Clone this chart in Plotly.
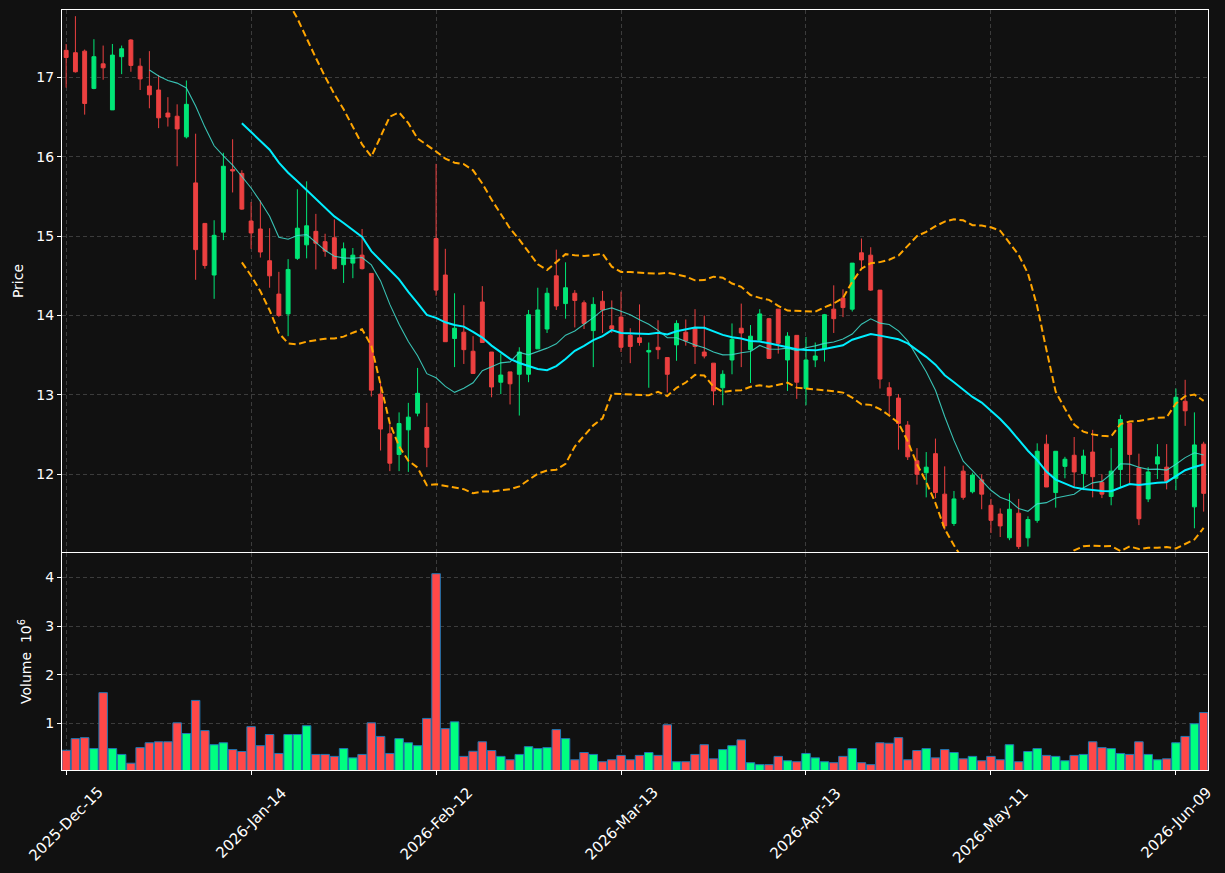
import plotly.graph_objects as go
import pandas as pd

# ---- data ----
opens = [17.34, 17.31, 17.33, 16.86, 17.17, 16.59, 17.26, 17.47, 17.14, 16.89,
         16.84, 16.55, 16.51, 16.25, 15.67, 15.16, 14.51, 15.05, 15.84, 15.79,
         15.19, 15.09, 14.69, 14.27, 14.02, 14.72, 14.89, 15.06, 14.93, 14.98,
         14.64, 14.66, 14.76, 14.53, 13.01, 12.51, 12.25, 12.56, 12.77, 12.59,
         14.97, 14.51, 13.71, 13.79, 13.55, 14.17, 13.54, 13.16, 13.29, 13.26,
         13.26, 13.58, 13.83, 14.50, 14.15, 14.28, 14.16, 13.81, 14.18, 13.87,
         13.98, 13.75, 13.72, 13.54, 13.60, 13.47, 13.63, 13.79, 13.84, 13.54,
         13.40, 13.09, 13.44, 13.84, 13.57, 13.69, 13.96, 14.08, 13.44, 13.75,
         13.08, 13.44, 13.58, 14.08, 14.22, 14.08, 14.79, 14.76, 14.32, 13.09,
         12.96, 12.62, 12.17, 12.02, 12.26, 11.75, 11.38, 12.04, 11.78, 11.93,
         11.61, 11.50, 11.20, 11.51, 11.20, 11.42, 12.38, 11.77, 12.10, 12.24,
         12.01, 12.28, 11.90, 11.72, 12.06, 12.64, 12.08, 11.69, 12.13, 12.09,
         11.95, 12.92, 11.59, 12.38]
highs = [17.42, 17.77, 17.35, 17.48, 17.40, 17.42, 17.40, 17.48, 17.24, 17.33,
         17.03, 16.75, 16.66, 16.96, 16.29, 15.16, 15.20, 16.05, 16.22, 15.83,
         15.43, 15.45, 15.10, 14.55, 14.71, 15.59, 15.69, 15.28, 15.03, 15.21,
         14.92, 14.85, 15.09, 14.53, 13.17, 12.64, 12.78, 12.90, 13.34, 12.90,
         15.91, 14.84, 14.28, 14.13, 13.74, 14.37, 13.54, 13.52, 13.29, 13.60,
         14.07, 14.35, 14.35, 14.83, 14.67, 14.32, 14.19, 14.23, 14.31, 14.19,
         14.30, 13.84, 14.14, 13.66, 13.94, 13.47, 13.94, 13.95, 14.08, 14.00,
         13.40, 13.31, 13.90, 14.15, 13.88, 14.08, 13.97, 14.08, 13.79, 13.75,
         13.73, 13.66, 14.02, 14.38, 14.33, 14.66, 14.97, 14.86, 14.32, 13.16,
         13.01, 12.67, 12.33, 12.28, 12.45, 12.10, 11.79, 12.11, 12.02, 12.00,
         11.69, 11.57, 11.76, 11.69, 11.47, 12.39, 12.50, 12.29, 12.22, 12.47,
         12.31, 12.56, 12.00, 12.33, 12.75, 12.65, 12.26, 12.09, 12.38, 12.38,
         13.08, 13.19, 12.78, 12.41]
lows = [16.87, 17.06, 16.53, 16.85, 16.97, 16.59, 17.04, 17.07, 16.84, 16.61,
        16.36, 16.38, 15.88, 16.23, 14.45, 14.59, 14.21, 14.95, 15.55, 15.33,
        14.84, 14.73, 14.35, 13.98, 13.74, 14.70, 14.72, 14.58, 14.74, 14.58,
        14.41, 14.47, 14.58, 12.98, 12.30, 12.04, 12.04, 12.03, 12.73, 12.09,
        14.25, 13.67, 13.35, 13.39, 13.27, 13.66, 12.97, 13.01, 12.88, 12.74,
        13.16, 13.58, 13.78, 14.07, 13.96, 13.85, 13.83, 13.35, 13.78, 13.78,
        13.54, 13.40, 13.62, 13.09, 13.45, 13.03, 13.43, 13.62, 13.39, 13.46,
        12.87, 12.87, 13.26, 13.35, 13.15, 13.69, 13.46, 13.52, 13.05, 12.95,
        12.87, 13.35, 13.42, 13.78, 13.98, 14.05, 14.59, 14.31, 13.08, 12.73,
        12.31, 12.18, 11.87, 11.71, 11.70, 11.30, 11.35, 11.68, 11.76, 11.56,
        11.26, 11.21, 11.17, 11.06, 11.09, 11.39, 11.84, 11.58, 11.95, 11.84,
        11.80, 11.71, 11.70, 11.61, 11.84, 11.89, 11.36, 11.65, 11.94, 11.81,
        11.80, 12.61, 11.32, 11.53]
closes = [17.25, 17.07, 16.67, 17.26, 17.12, 17.28, 17.36, 17.15, 16.98, 16.78,
          16.49, 16.50, 16.35, 16.66, 14.83, 14.63, 15.01, 15.88, 15.82, 15.34,
          15.04, 14.80, 14.50, 14.00, 14.58, 15.10, 15.13, 14.91, 14.81, 14.59,
          14.84, 14.76, 14.59, 13.06, 12.57, 12.14, 12.64, 12.72, 13.02, 12.34,
          14.32, 13.67, 13.84, 13.57, 13.27, 13.66, 13.10, 13.25, 13.14, 13.54,
          14.01, 14.07, 14.28, 14.12, 14.35, 14.19, 13.90, 14.14, 14.07, 13.83,
          13.60, 13.61, 13.66, 13.56, 13.57, 13.26, 13.90, 13.68, 13.61, 13.49,
          13.05, 13.26, 13.70, 13.78, 13.74, 14.02, 13.46, 13.65, 13.74, 13.16,
          13.44, 13.49, 14.01, 13.96, 14.10, 14.66, 14.70, 14.32, 13.20, 12.99,
          12.64, 12.22, 12.00, 12.09, 11.77, 11.35, 11.69, 11.71, 11.99, 11.75,
          11.42, 11.35, 11.56, 11.09, 11.43, 12.29, 11.84, 12.29, 12.19, 12.03,
          12.23, 11.97, 11.75, 12.04, 12.69, 12.25, 11.44, 12.03, 12.22, 11.91,
          12.97, 12.80, 12.37, 11.76]
volume_m = [0.445, 0.685, 0.705, 0.48, 1.63, 0.48, 0.36, 0.18, 0.50, 0.60,
            0.62, 0.62, 1.01, 0.79, 1.47, 0.85, 0.56, 0.60, 0.46, 0.42,
            0.93, 0.54, 0.77, 0.38, 0.77, 0.77, 0.95, 0.36, 0.36, 0.32,
            0.48, 0.29, 0.36, 1.01, 0.73, 0.38, 0.685, 0.60, 0.54, 1.10,
            4.075, 0.89, 1.03, 0.32, 0.425, 0.62, 0.44, 0.32, 0.25, 0.36,
            0.52, 0.48, 0.50, 0.87, 0.685, 0.25, 0.40, 0.36, 0.21, 0.25,
            0.34, 0.25, 0.34, 0.40, 0.34, 0.97, 0.21, 0.21, 0.36, 0.56,
            0.27, 0.46, 0.54, 0.66, 0.19, 0.15, 0.15, 0.32, 0.23, 0.21,
            0.38, 0.29, 0.21, 0.19, 0.32, 0.48, 0.19, 0.15, 0.60, 0.59,
            0.705, 0.25, 0.44, 0.48, 0.29, 0.46, 0.40, 0.27, 0.32, 0.23,
            0.32, 0.25, 0.56, 0.21, 0.42, 0.48, 0.34, 0.32, 0.23, 0.34,
            0.36, 0.62, 0.50, 0.48, 0.38, 0.36, 0.62, 0.36, 0.25, 0.27,
            0.60, 0.73, 0.99, 1.22]
tick_pos = [0, 20, 40, 60, 80, 100, 120]
tick_labels = ["2025-Dec-15", "2026-Jan-14", "2026-Feb-12", "2026-Mar-13",
               "2026-Apr-13", "2026-May-11", "2026-Jun-09"]

idx = list(range(len(closes)))
cs = pd.Series(closes)
ma10 = cs.rolling(10).mean()
ma20 = cs.rolling(20).mean()
sd20 = cs.rolling(20).std()
bb_up = ma20 + 2 * sd20
bb_lo = ma20 - 2 * sd20

UP_C = "#00e676"
DN_C = "#ec4040"
VUP_C = "#00ff80"
VDN_C = "#ff4848"
BG = "#111111"
GRID = "#3c3c3c"
FONT = "DejaVu Sans"
TICKFONT = dict(color="white", size=14, family=FONT)
DATEFONT = dict(color="white", size=15, family=FONT)

fig = go.Figure()
fig.add_trace(go.Candlestick(
    x=idx, open=opens, high=highs, low=lows, close=closes,
    increasing=dict(line=dict(color=UP_C, width=1), fillcolor=UP_C),
    decreasing=dict(line=dict(color=DN_C, width=1), fillcolor=DN_C),
    whiskerwidth=0, xaxis="x", yaxis="y", showlegend=False))
fig.add_trace(go.Scatter(x=idx, y=ma10, mode="lines",
                         line=dict(color="rgba(64,224,208,0.85)", width=1.1),
                         xaxis="x", yaxis="y", showlegend=False))
fig.add_trace(go.Scatter(x=idx, y=ma20, mode="lines",
                         line=dict(color="#00eeff", width=2),
                         xaxis="x", yaxis="y", showlegend=False))
for band in (bb_up, bb_lo):
    fig.add_trace(go.Scatter(x=idx, y=band, mode="lines",
                             line=dict(color="#ffa500", width=2, dash="7px,3.5px"),
                             xaxis="x", yaxis="y", showlegend=False))

vcolors = [VUP_C if c >= o else VDN_C for o, c in zip(opens, closes)]
fig.add_trace(go.Bar(x=idx, y=volume_m, marker=dict(color=vcolors,
                     line=dict(color="#1f77b4", width=1)),
                     width=0.92, xaxis="x2", yaxis="y2", showlegend=False))

axis_common = dict(showline=True, linecolor="white", linewidth=1, mirror=True,
                   showgrid=True, gridcolor=GRID, griddash="4px,3px", gridwidth=1,
                   zeroline=False, tickcolor="white", ticklen=4,
                   tickfont=TICKFONT)

# centred, rotated date labels (as in the reference)
date_annotations = [
    dict(x=p, xref="x2", y=0, yref="paper", yshift=-11, text=t,
         textangle=-45, showarrow=False, xanchor="center", yanchor="top",
         font=DATEFONT)
    for p, t in zip(tick_pos, tick_labels)
]

fig.update_layout(
    width=1225, height=873,
    paper_bgcolor=BG, plot_bgcolor=BG,
    margin=dict(l=62, r=17, t=10, b=103),
    bargap=0.05, boxgap=0.4,
    xaxis=dict(domain=[0, 1], anchor="y", range=[-0.45, 123.47],
               tickvals=tick_pos, showticklabels=False, ticks="",
               rangeslider=dict(visible=False), **axis_common),
    xaxis2=dict(domain=[0, 1], anchor="y2", range=[-0.45, 123.47], matches="x",
                tickvals=tick_pos, showticklabels=False,
                ticks="outside", **axis_common),
    yaxis=dict(domain=[0.2868, 1], anchor="x", range=[11.021, 17.848],
               tickvals=[12, 13, 14, 15, 16, 17], ticks="outside",
               title=dict(text="Price", font=dict(color="white", size=14, family=FONT), standoff=9),
               **axis_common),
    yaxis2=dict(domain=[0, 0.2855], anchor="x2", range=[0.04, 4.5],
                tickvals=[1, 2, 3, 4], ticks="outside",
                title=dict(text="Volume  10<sup>6</sup>", font=dict(color="white", size=14, family=FONT), standoff=10),
                **axis_common),
    annotations=date_annotations,
    font=dict(family=FONT, color="white"),
)

fig.write_html("out.html")
